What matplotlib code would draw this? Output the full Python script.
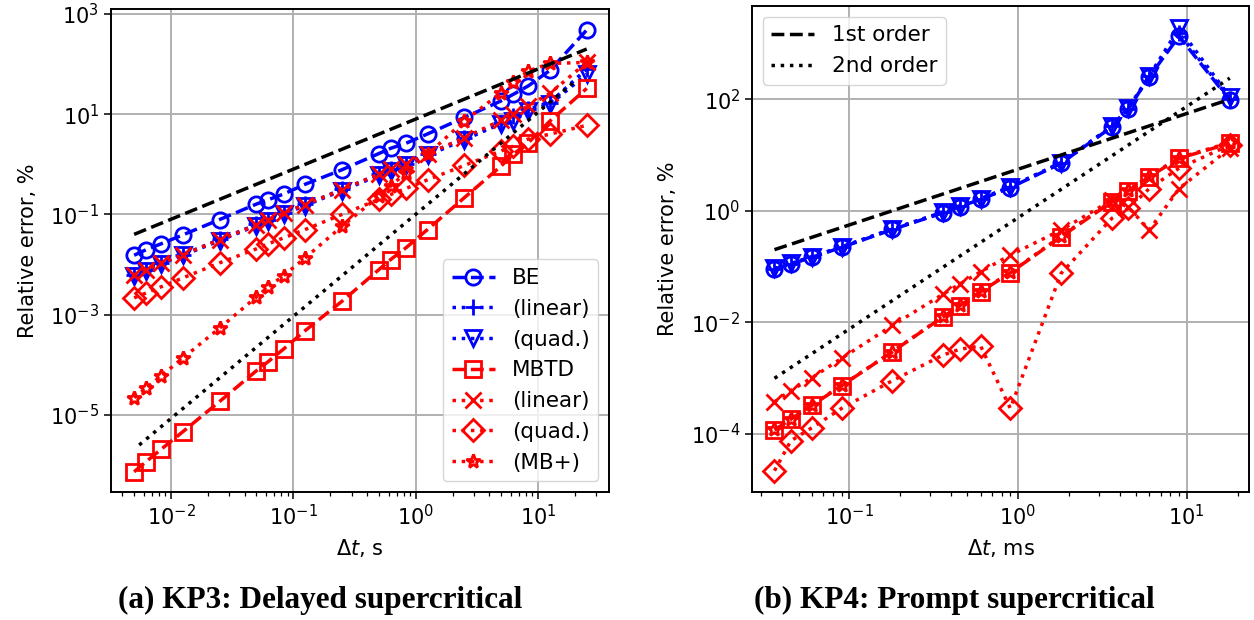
import numpy as np
import matplotlib
matplotlib.use('Agg')
import matplotlib.pyplot as plt
from matplotlib.ticker import FixedLocator, NullLocator

# ------------------------------
# KP3: delayed supercritical (dt in s)
# ------------------------------
dt_kp3 = [0.005, 0.00625, 0.00833, 0.0125, 0.025, 0.05, 0.0625, 0.0833, 0.125, 0.25,
          0.5, 0.625, 0.833, 1.25, 2.5, 5, 6.25, 8.33, 12.5, 25]
be_kp3 = [0.0153, 0.0197, 0.026, 0.039, 0.079, 0.161, 0.197, 0.255, 0.40, 0.78,
          1.64, 2.09, 2.63, 4.04, 8.6, 18.5, 24.8, 36.8, 75, 479]
be_lin_kp3 = [0.0063, 0.0079, 0.0108, 0.0158, 0.0316, 0.063, 0.079, 0.108, 0.158, 0.316,
              0.63, 0.79, 1.0, 1.58, 3.4, 6.8, 9.2, 12.6, 17.1, 80]
be_quad_kp3 = [0.0060, 0.0076, 0.0104, 0.0152, 0.030, 0.060, 0.075, 0.102, 0.150, 0.30,
               0.60, 0.75, 0.95, 1.5, 3.1, 6.5, 7.3, 11.6, 15.8, 63]
mbtd_kp3 = [7.3e-7, 1.16e-6, 2.06e-6, 4.6e-6, 1.85e-5, 7.6e-5, 1.16e-4, 2.06e-4, 4.8e-4, 1.85e-3,
            7.9e-3, 0.0126, 0.0216, 0.050, 0.216, 0.925, 1.58, 2.7, 7.3, 32.7]
mb_lin_kp3 = [0.0062, 0.0078, 0.0107, 0.0157, 0.031, 0.062, 0.078, 0.107, 0.157, 0.31,
              0.64, 0.80, 1.02, 1.6, 3.4, 7.6, 10, 14.7, 26, 108]
mb_quad_kp3 = [2.16e-3, 2.7e-3, 3.6e-3, 5.4e-3, 0.0108, 0.0206, 0.026, 0.034, 0.050, 0.10,
               0.20, 0.25, 0.33, 0.49, 0.95, 1.85, 2.3, 3.2, 4.0, 6.0]
mb_plus_kp3 = [2.2e-5, 3.4e-5, 6.0e-5, 1.36e-4, 5.4e-4, 2.26e-3, 3.6e-3, 6.0e-3, 0.0136, 0.058,
               0.23, 0.37, 0.68, 1.58, 7.3, 27, 43, 73, 103, 108]
ref1_x_kp3, ref1_y_kp3 = [0.005, 25], [0.04, 200]
ref2_x_kp3, ref2_y_kp3 = [0.0055, 20], [2.5e-6, 45]

# ------------------------------
# KP4: prompt supercritical (dt in ms)
# ------------------------------
dt_kp4 = [0.036, 0.045, 0.06, 0.09, 0.18, 0.36, 0.45, 0.6, 0.9, 1.8, 3.6, 4.5, 6, 9, 18]
be_kp4 = [0.089, 0.11, 0.146, 0.22, 0.46, 0.92, 1.18, 1.6, 2.6, 7.1, 32, 67, 255, 1350, 97]
be_lin_kp4 = [0.090, 0.111, 0.148, 0.222, 0.47, 0.93, 1.2, 1.62, 2.65, 7.2, 32.5, 68, 260, 1550, 100]
be_quad_kp4 = [0.092, 0.113, 0.150, 0.225, 0.47, 0.95, 1.22, 1.65, 2.7, 7.3, 33, 69, 265, 1900, 110]
mbtd_kp4 = [1.16e-4, 1.82e-4, 3.2e-4, 7.2e-4, 2.94e-3, 0.0125, 0.0197, 0.035, 0.077, 0.34,
            1.45, 2.29, 4.07, 8.7, 16.2]
mb_lin_kp4 = [3.7e-4, 5.9e-4, 1.0e-3, 2.24e-3, 8.7e-3, 0.0319, 0.048, 0.080, 0.16, 0.45,
              1.55, 1.16, 0.45, 2.5, 13.2]
mb_quad_kp4 = [2.15e-5, 7.4e-5, 1.27e-4, 2.83e-4, 8.9e-4, 2.57e-3, 3.25e-3, 3.72e-3, 2.83e-4, 0.075,
               0.73, 1.1, 2.5, 5.8, 15.1]
mb_plus_kp4 = [1.2e-4, 1.85e-4, 3.3e-4, 7.3e-4, 2.95e-3, 0.0127, 0.020, 0.036, 0.078, 0.35,
               1.5, 2.35, 4.2, 8.9, 16.8]
ref1_x_kp4, ref1_y_kp4 = [0.036, 18], [0.2, 100]
ref2_x_kp4, ref2_y_kp4 = [0.036, 18], [9.8e-4, 240]

labels = ['BE', '(linear)', '(quad.)', 'MBTD', '(linear)', '(quad.)', '(MB+)']
styles = [('b', '--', 'o'), ('b', ':', '+'), ('b', ':', 'v'),
          ('r', '--', 's'), ('r', ':', 'x'), ('r', ':', 'D'), ('r', ':', '*')]

LW = 2.5
MS = 11
MEW = 2.0
FS = 15

fig = plt.figure(figsize=(12.54, 6.2), dpi=100)
ax1 = fig.add_axes([111/1254, 1 - 492/620, 498/1254, 483/620])
ax2 = fig.add_axes([752/1254, 1 - 492/620, 497/1254, 486/620])


def draw(ax, dt, series, ref1, ref2):
    lines = []
    for y, lab, (c, ls, m) in zip(series, labels, styles):
        ms = MS - 1 if m == '*' else MS
        ln, = ax.plot(dt, y, color=c, linestyle=ls, marker=m, markersize=ms,
                      markerfacecolor='none', markeredgewidth=MEW, linewidth=LW, label=lab)
        lines.append(ln)
    r1, = ax.plot(ref1[0], ref1[1], 'k--', linewidth=LW, label='1st order')
    r2, = ax.plot(ref2[0], ref2[1], 'k:', linewidth=LW, label='2nd order')
    ax.set_xscale('log')
    ax.set_yscale('log')
    ax.grid(True, which='major', color='#b0b0b0', linewidth=1.4)
    ax.set_axisbelow(True)
    ax.tick_params(labelsize=FS, length=5, width=1.1)
    ax.tick_params(which='minor', length=3, width=0.9)
    ax.yaxis.set_minor_locator(NullLocator())
    for s in ax.spines.values():
        s.set_linewidth(1.4)
    return lines, [r1, r2]


lines1, refs1 = draw(ax1, dt_kp3,
                     [be_kp3, be_lin_kp3, be_quad_kp3, mbtd_kp3, mb_lin_kp3, mb_quad_kp3, mb_plus_kp3],
                     (ref1_x_kp3, ref1_y_kp3), (ref2_x_kp3, ref2_y_kp3))
ax1.set_xlim(10**-2.49, 10**1.58)
ax1.set_ylim(10**-6.54, 10**3.1)
ax1.yaxis.set_major_locator(FixedLocator([1e-5, 1e-3, 1e-1, 1e1, 1e3]))
ax1.set_xlabel(r'$\Delta t$, s', fontsize=FS, labelpad=6)
ax1.set_ylabel('Relative error, %', fontsize=FS, labelpad=9)
ax1.legend(handles=lines1, loc='lower right', fontsize=FS + 0.5)

lines2, refs2 = draw(ax2, dt_kp4,
                     [be_kp4, be_lin_kp4, be_quad_kp4, mbtd_kp4, mb_lin_kp4, mb_quad_kp4, mb_plus_kp4],
                     (ref1_x_kp4, ref1_y_kp4), (ref2_x_kp4, ref2_y_kp4))
ax2.set_xlim(10**-1.577, 10**1.369)
ax2.set_ylim(10**-5.05, 10**3.675)
ax2.yaxis.set_major_locator(FixedLocator([1e-4, 1e-2, 1e0, 1e2]))
ax2.set_xlabel(r'$\Delta t$, ms', fontsize=FS, labelpad=6)
ax2.set_ylabel('Relative error, %', fontsize=FS, labelpad=9)
ax2.legend(handles=refs2, loc='upper left', fontsize=FS + 0.5)

cap = dict(family='Liberation Serif', weight='bold', fontsize=22.5, ha='center', va='center')
fig.text(320/1254, 1 - 600/620, '(a) KP3: Delayed supercritical', **cap)
fig.text(954/1254, 1 - 600/620, '(b) KP4: Prompt supercritical', **cap)

fig.savefig('out.png', dpi=100)
